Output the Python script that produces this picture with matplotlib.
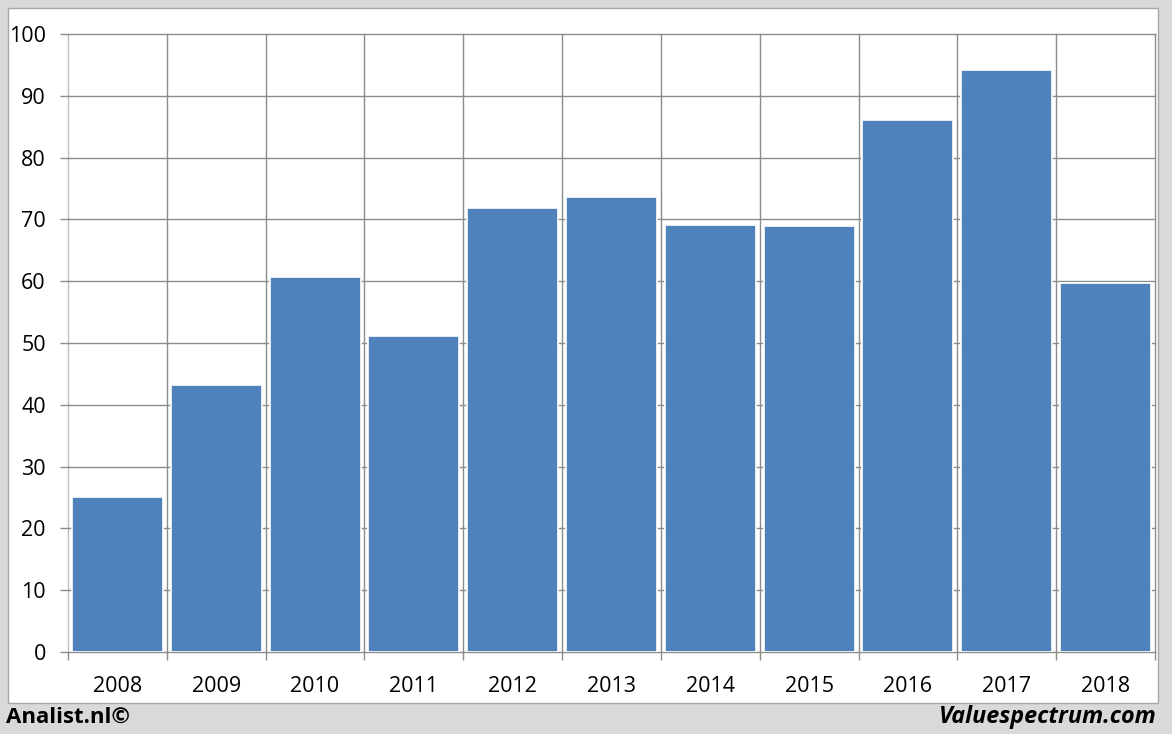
import matplotlib.pyplot as plt
from matplotlib.patches import Rectangle
import numpy as np

years = ['2008', '2009', '2010', '2011', '2012', '2013', '2014', '2015', '2016', '2017', '2018']
values = [25.1, 43.2, 60.7, 51.1, 71.8, 73.6, 69.1, 68.9, 86.1, 94.2, 59.7]
y_ticks = [0, 10, 20, 30, 40, 50, 60, 70, 80, 90, 100]

W, H = 1172, 734
plt.rcParams['font.family'] = ['Open Sans', 'DejaVu Sans']

fig = plt.figure(figsize=(W / 100, H / 100), dpi=100)
fig.patch.set_facecolor('#d9d9d9')

# white inner panel, drawn under the axes
fig.patches.append(Rectangle((8 / W, 1 - 703 / H), (1158 - 8) / W, (703 - 8) / H,
                             transform=fig.transFigure, facecolor='white',
                             edgecolor='#a6a6a6', linewidth=1, zorder=-5))

ax = fig.add_axes([68 / W, 1 - 652 / H, (1155 - 68) / W, (652 - 34) / H])
ax.set_zorder(2)
ax.set_facecolor('none')

x = np.arange(len(years))
ax.bar(x, values, width=0.92, color='#4f81bd', edgecolor='white', linewidth=1.2, zorder=3)

ax.set_xlim(-0.5, len(years) - 0.5)
ax.set_ylim(0, 100)

# gridlines
for b in np.arange(-0.5, len(years) - 1, 1.0):
    ax.axvline(b, color='#bfbfbf' if b == -0.5 else '#8c8c8c', linewidth=1,
               zorder=1, clip_on=False)
for t in y_ticks:
    ax.axhline(t, color='#8c8c8c', linewidth=1, zorder=1, clip_on=False)

ax.set_yticks(y_ticks)
ax.set_yticklabels([str(t) for t in y_ticks], fontsize=15.5)
ax.tick_params(axis='y', length=6, width=1, color='#8c8c8c', pad=10)

ax.set_xticks(np.arange(-0.5, len(years), 1.0))
ax.set_xticklabels([])
ax.tick_params(axis='x', which='major', length=6, width=1, color='#8c8c8c')
ax.set_xticks(x, minor=True)
ax.set_xticklabels(years, minor=True, fontsize=15.5)
ax.tick_params(axis='x', which='minor', length=0, pad=17)

for name, s in ax.spines.items():
    if name == 'right':
        s.set_color('#8c8c8c')
        s.set_linewidth(1)
        s.set_zorder(1)
    else:
        s.set_visible(False)

fig.text(6 / W, 1 - 717 / H, 'Analist.nl©', fontsize=16, fontweight='bold',
         ha='left', va='center', color='black')
fig.text(1157 / W, 1 - 717 / H, 'Valuespectrum.com', fontsize=16.8, fontweight='bold',
         fontstyle='italic', ha='right', va='center', color='black')

fig.savefig('out.png', dpi=100, facecolor=fig.get_facecolor())
